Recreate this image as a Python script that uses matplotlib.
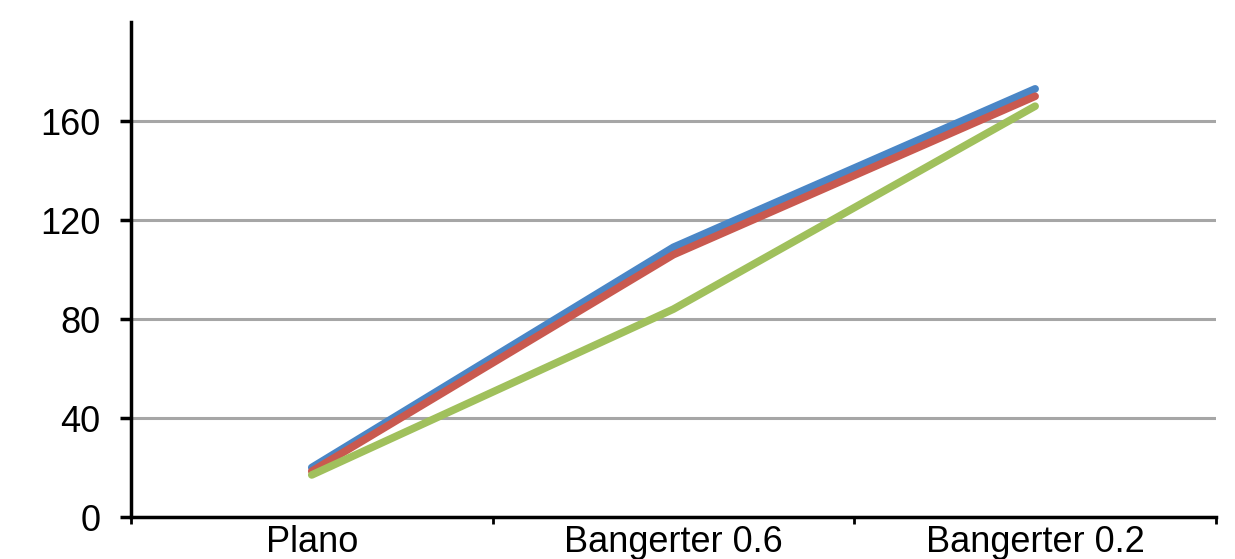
import numpy as np
import matplotlib.pyplot as plt
from matplotlib.ticker import FixedLocator

categories = ["Plano", "Bangerter 0.6", "Bangerter 0.2"]
serie_bleue = [20, 109, 173]
serie_rouge = [18.5, 106, 170]
serie_verte = [17, 84, 166]
yticks = [0, 40, 80, 120, 160]

plt.rcParams['font.family'] = ['Liberation Sans', 'DejaVu Sans']

fig = plt.figure(figsize=(12.35, 5.59), dpi=100)
ax = fig.add_axes([0.106, 0.0751, 0.8786, 0.8855])

x = np.arange(len(categories))
for vals, col in [(serie_bleue, '#4A86C6'), (serie_rouge, '#C9594F'), (serie_verte, '#A0C05C')]:
    ax.plot(x, vals, color=col, lw=5.5, solid_capstyle='round', zorder=3)

ax.set_xlim(-0.5, len(categories) - 0.5)
ax.set_ylim(0, 200)

ax.set_yticks(yticks)
ax.set_yticklabels([str(v) for v in yticks])
ax.yaxis.grid(True, color='#A6A6A6', lw=2.2, zorder=0)
ax.set_axisbelow(True)

# ticks aux bornes des catégories, étiquettes au centre
ax.xaxis.set_major_locator(FixedLocator(np.arange(-0.5, len(categories), 1.0)))
ax.xaxis.set_major_formatter(plt.NullFormatter())
ax.xaxis.set_minor_locator(FixedLocator(x))
ax.set_xticklabels(categories, minor=True)
ax.tick_params(axis='x', which='minor', length=0, pad=6, labelsize=26)
ax.tick_params(axis='x', which='major', length=5, width=2, direction='out')
ax.tick_params(axis='y', length=8, width=2.5, direction='out', pad=14, labelsize=26)

for s in ['top', 'right']:
    ax.spines[s].set_visible(False)
for s in ['left', 'bottom']:
    ax.spines[s].set_linewidth(2.5)

fig.savefig("out.png", dpi=100)
